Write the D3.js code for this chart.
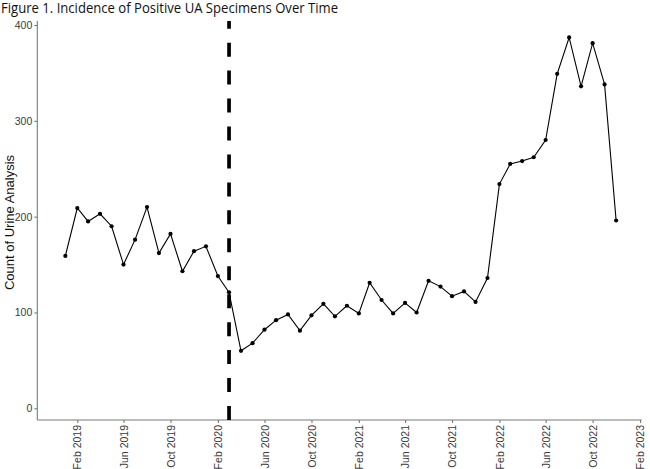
<!DOCTYPE html>
<html>
<head>
<meta charset="utf-8">
<script src="https://cdn.jsdelivr.net/npm/d3@7"></script>
<style>
  body { margin: 0; background: #fff; }
  svg { display: block; }
  .axis path, .axis line { stroke: #7a7a7a; stroke-width: 1.1; }
  .axis text { font-family: Arial, "Liberation Sans", sans-serif; font-size: 10.5px; fill: #3a3a3a; }
</style>
</head>
<body>
<div id="chart"></div>
<script>
// monthly counts, Jan 2019 .. Dec 2022
var counts2019 = [159, 209, 195, 203, 190, 150, 176, 210, 162, 182, 143, 164];
var counts2020 = [169, 138, 121, 60, 68, 82, 92, 98, 81, 97, 109, 96];
var counts2021 = [107, 99, 131, 113, 99, 110, 100, 133, 127, 117, 122, 111];
var counts2022 = [136, 234, 255, 258, 262, 280, 349, 387, 336, 381, 338, 196];

var years = [2019, 2020, 2021, 2022];
var yTicks = [0, 100, 200, 300, 400];
var xTickMonths = ["2019-02", "2019-06", "2019-10", "2020-02", "2020-06", "2020-10",
                   "2021-02", "2021-06", "2021-10", "2022-02", "2022-06", "2022-10", "2023-02"];
var interventionMonth = "2020-03";

var titleText = "Figure 1. Incidence of Positive UA Specimens Over Time";
var yTitle = "Count of Urine Analysis";

var width = 650, height = 469;

var svg = d3.select("#chart")
    .append("svg")
    .attr("width", width)
    .attr("height", height);

var parseMonth = d3.utcParse("%Y-%m");

var data = [];
[counts2019, counts2020, counts2021, counts2022].forEach(function (arr, yi) {
    arr.forEach(function (v, m) {
        data.push({ date: new Date(Date.UTC(years[yi], m, 1)), value: v });
    });
});

// panel edges
var panel = { left: 37.3, right: 641.7, top: 21, bottom: 420 };

var x = d3.scaleUtc()
    .domain([parseMonth("2019-02"), parseMonth("2023-02")])
    .range([77.3, 640]);
// widen to the panel, same mapping
x.domain([x.invert(panel.left), x.invert(panel.right)]).range([panel.left, panel.right]);

var y = d3.scaleLinear()
    .domain([0, 400])
    .range([408.3, 25]);

// x axis
svg.append("g")
    .attr("class", "x-axis axis")
    .attr("transform", `translate(0,${panel.bottom})`)
    .call(d3.axisBottom(x)
        .tickValues(xTickMonths.map(parseMonth))
        .tickFormat(d3.utcFormat("%b %Y"))
        .tickSize(3)
        .tickSizeOuter(0))
    .selectAll("text")
    .attr("transform", "rotate(-90)")
    .attr("text-anchor", "end")
    .attr("x", -5)
    .attr("y", 0)
    .attr("dy", "0.35em");

// y axis
svg.append("g")
    .attr("class", "y-axis axis")
    .attr("transform", `translate(${panel.left},0)`)
    .call(d3.axisLeft(y).tickValues(yTicks).tickSize(3).tickSizeOuter(0).tickPadding(2));

svg.select(".y-axis .domain").attr("d", `M0,${panel.top}V${panel.bottom}`);
svg.select(".x-axis .domain").attr("d", `M${panel.left},0H${panel.right}`);

// y title
svg.append("text")
    .text(yTitle)
    .attr("transform", `translate(14,${(panel.top + panel.bottom) / 2 + 2}) rotate(-90)`)
    .attr("text-anchor", "middle")
    .style("font-family", "Arial, 'Liberation Sans', sans-serif")
    .style("font-size", "13px")
    .style("fill", "#111");

// title
svg.append("text")
    .text(titleText)
    .attr("x", 1)
    .attr("y", 13)
    .attr("textLength", 337)
    .attr("lengthAdjust", "spacingAndGlyphs")
    .style("font-family", "'Open Sans', sans-serif")
    .style("font-size", "14px")
    .style("fill", "#111");

// dashed vertical line
var vx = x(parseMonth(interventionMonth));
svg.append("line")
    .attr("x1", vx).attr("x2", vx)
    .attr("y1", panel.bottom).attr("y2", panel.top)
    .attr("stroke", "#000")
    .attr("stroke-width", 3.7)
    .attr("stroke-dasharray", "14 13.95");

// line + points
svg.append("path")
    .datum(data)
    .attr("fill", "none")
    .attr("stroke", "#000")
    .attr("stroke-width", 1.1)
    .attr("d", d3.line()
        .x(function (d) { return x(d.date); })
        .y(function (d) { return y(d.value); }));

svg.selectAll(".pt")
    .data(data)
    .join("circle")
    .attr("class", "pt")
    .attr("cx", function (d) { return x(d.date); })
    .attr("cy", function (d) { return y(d.value); })
    .attr("r", 2.1)
    .attr("fill", "#000");
</script>
</body>
</html>
